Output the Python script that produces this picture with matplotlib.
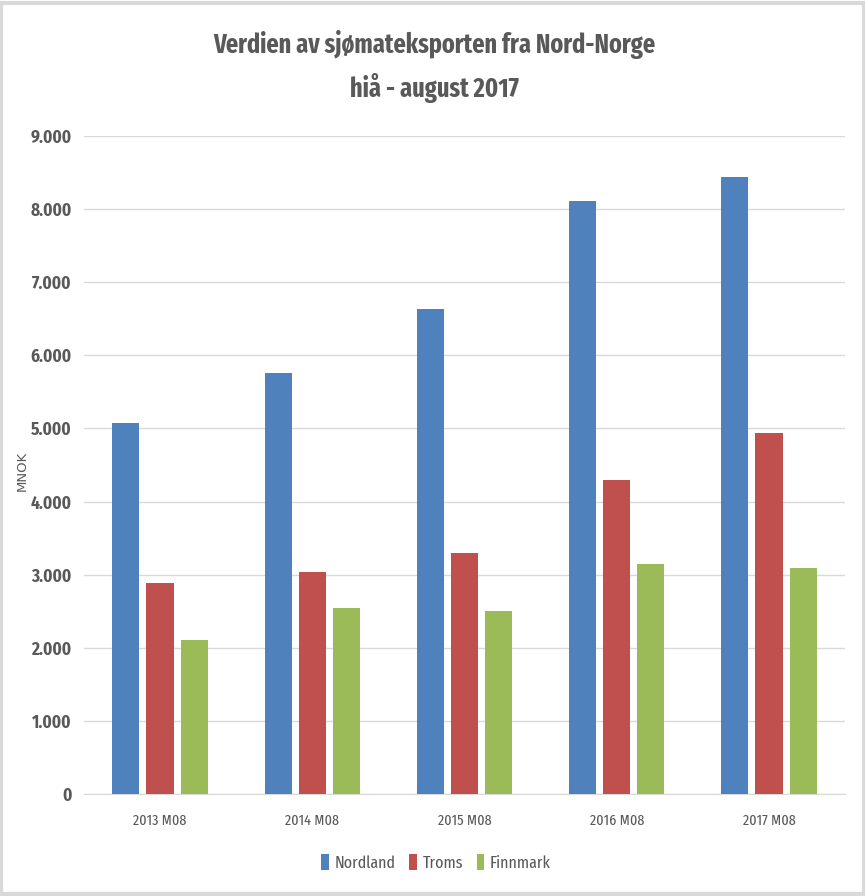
import numpy as np
import matplotlib.pyplot as plt
from matplotlib.patches import Rectangle
from matplotlib.ticker import FuncFormatter

# Data (MNOK)
categories = ['2013 M08', '2014 M08', '2015 M08', '2016 M08', '2017 M08']
nordland = [5068, 5753, 6630, 8110, 8438]
troms = [2890, 3040, 3290, 4290, 4932]
finnmark = [2110, 2548, 2507, 3150, 3096]
series_names = ['Nordland', 'Troms', 'Finnmark']
colors = ['#4F81BD', '#C0504D', '#9BBB59']

cond = ['Fira Sans Condensed', 'DejaVu Sans']
xcond = ['Fira Sans Extra Condensed', 'DejaVu Sans']
plt.rcParams['font.family'] = cond
grey = '#595959'

fig = plt.figure(figsize=(8.65, 8.96), dpi=100)
ax = fig.add_axes([0.097, 0.1138, 0.880, 0.7344])

x = np.arange(len(categories))
width = 0.178
step = 0.224
for i, (vals, name, c) in enumerate(zip([nordland, troms, finnmark], series_names, colors)):
    ax.bar(x + (i - 1) * step, vals, width, color=c, label=name, zorder=3)

ax.set_xlim(-0.5, len(categories) - 0.5)
ax.set_ylim(0, 9000)
ax.set_yticks(np.arange(0, 9001, 1000))
ax.yaxis.set_major_formatter(FuncFormatter(lambda v, p: f'{int(v):,}'.replace(',', '.')))
ax.grid(axis='y', color='#D9D9D9', linewidth=1, zorder=0)
for s in ['top', 'right', 'left']:
    ax.spines[s].set_visible(False)
ax.spines['bottom'].set_color('#D9D9D9')
ax.tick_params(axis='both', length=0)
ax.tick_params(axis='y', pad=9, labelsize=12.5, labelcolor=grey)
ax.tick_params(axis='x', pad=14, labelcolor=grey)
for t in ax.get_yticklabels():
    t.set_fontweight('bold')
ax.set_xticks(x)
ax.set_xticklabels(categories, family=xcond, fontsize=11, fontweight='normal')

fig.text(0.026, 0.475, 'MNOK', rotation=90, ha='center', va='center',
         fontsize=9.5, color=grey, family='DejaVu Sans')

fig.text(0.502, 0.950, 'Verdien av sjømateksporten fra Nord-Norge', ha='center', va='center',
         fontsize=19, fontweight='bold', color=grey, family=xcond)
fig.text(0.502, 0.902, 'hiå - august 2017', ha='center', va='center',
         fontsize=19, fontweight='bold', color=grey, family=xcond)

leg = ax.legend(loc='center', bbox_to_anchor=(0.4625, -0.104), ncol=3, frameon=False,
                prop={'family': xcond, 'size': 12.5}, handlelength=0.45, handleheight=1.1,
                handletextpad=0.3, columnspacing=0.8)
for t in leg.get_texts():
    t.set_color(grey)

# chart area border
fig.patches.append(Rectangle((0.001, 0.002), 0.998, 0.995, transform=fig.transFigure,
                             fill=False, edgecolor='#D9D9D9', linewidth=3))

fig.savefig('out.png', dpi=100)
